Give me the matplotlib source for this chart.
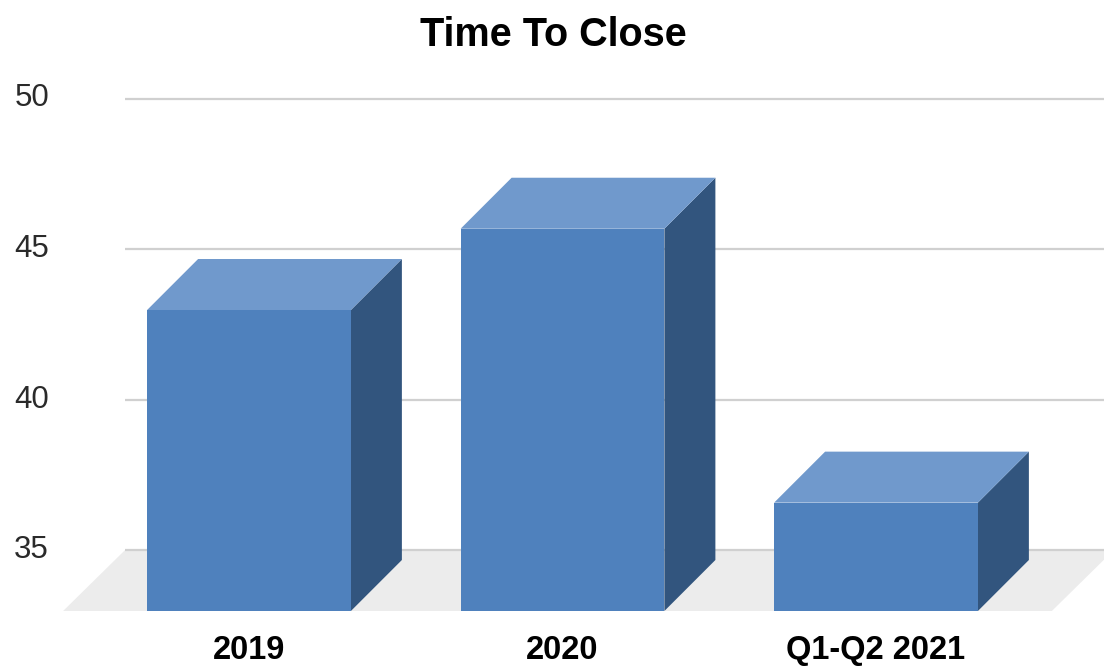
import matplotlib
matplotlib.use("Agg")
import matplotlib.pyplot as plt
from matplotlib.patches import Polygon, Rectangle

# ---- data ----
categories = ["2019", "2020", "Q1-Q2 2021"]
values = [45.0, 47.7, 38.6]
yticks = [35, 40, 45, 50]
title = "Time To Close"

# ---- style / geometry ----
front_col = "#4f81bd"
top_col = "#7099cc"
side_col = "#32557e"
floor_col = "#ececec"
grid_col = "#d0d0d0"
base = 35.0
bar_w = 0.65
px_x = 313.5   # pixels per category unit
px_y = 30.1    # pixels per value unit
bar_dx, bar_dy = 51 / px_x, 51 / px_y
floor_dx, floor_dy = 62 / px_x, 61 / px_y

fig = plt.figure(figsize=(11.04, 6.66), dpi=100)
ax = fig.add_axes([0, 0, 1, 1])
ax.set_xlim(-249 / px_x, (1104 - 249) / px_x)
ax.set_ylim(base - 55 / px_y, base + 611 / px_y)
ax.axis("off")

# floor
fx0, fx1 = -0.593, 2.561
floor = Polygon([(fx0, base), (fx1, base), (fx1 + floor_dx, base + floor_dy),
                 (fx0 + floor_dx, base + floor_dy)], closed=True,
                facecolor=floor_col, edgecolor="none", zorder=1)
ax.add_patch(floor)

# gridlines on back wall + tick labels
gx0 = fx0 + floor_dx
for t in yticks:
    yy = t + floor_dy
    ax.plot([gx0, ax.get_xlim()[1]], [yy, yy], color=grid_col, lw=1.6, zorder=2,
            solid_capstyle="butt")
    ax.text(-0.638, yy, str(t), ha="right", va="center", fontsize=22.5,
            color="#2a2a2a", family="Liberation Sans")

# bars
for i, (c, v) in enumerate(zip(categories, values)):
    x0, x1 = i - bar_w / 2, i + bar_w / 2
    ax.add_patch(Polygon([(x1, base), (x1, v), (x1 + bar_dx, v + bar_dy),
                          (x1 + bar_dx, base + bar_dy)], closed=True,
                         facecolor=side_col, edgecolor="none", zorder=3))
    ax.add_patch(Polygon([(x0, v), (x1, v), (x1 + bar_dx, v + bar_dy),
                          (x0 + bar_dx, v + bar_dy)], closed=True,
                         facecolor=top_col, edgecolor="none", zorder=3))
    ax.add_patch(Rectangle((x0, base), bar_w, v - base, facecolor=front_col,
                           edgecolor="none", zorder=4))
    ax.text(i, base - 48 / px_y, c, ha="center", va="baseline", fontsize=23.5,
            fontweight="bold", color="black", family="Liberation Sans")

fig.text(0.5 + 1.5 / 1104, 1 - 46 / 666, title, ha="center", va="baseline",
         fontsize=28.5, fontweight="bold", family="Liberation Sans")

fig.savefig("out.png", dpi=100, facecolor="white")
